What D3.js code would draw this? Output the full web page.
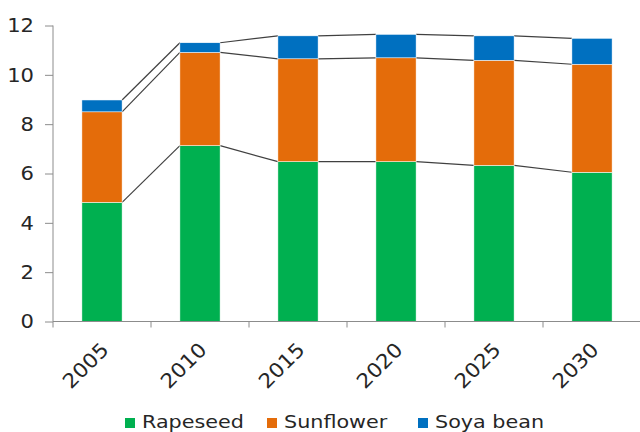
<!DOCTYPE html>
<html><head><meta charset="utf-8">
<script src="https://cdn.jsdelivr.net/npm/d3@7"></script>
<style>body{margin:0;background:#fff}svg{display:block}</style>
</head><body><svg id="c" width="640" height="432"></svg>
<script>
const years = ["2005","2010","2015","2020","2025","2030"];
const rapeseed = [4.83, 7.13, 6.48, 6.48, 6.33, 6.05];
const sunflower = [3.67, 3.78, 4.17, 4.21, 4.26, 4.38];
const soya = [0.48, 0.39, 0.93, 0.95, 0.99, 1.05];
const seriesNames = ["Rapeseed", "Sunflower", "Soya bean"];
const colors = ["#00B050", "#E46C0A", "#0070C0"];
const yTicks = [0, 2, 4, 6, 8, 10, 12];

const svg = d3.select("#c");
const font = "DejaVu Sans, Verdana, sans-serif";
const x = d3.scaleBand().domain(years).range([53, 641]).paddingInner(0.59).paddingOuter(0.295);
const y = d3.scaleLinear().domain([0, 12]).range([321.5, 25.5]);

const rows = years.map((yr, i) => ({year: yr, Rapeseed: rapeseed[i], Sunflower: sunflower[i], "Soya bean": soya[i]}));
const stacked = d3.stack().keys(seriesNames)(rows);

// connector lines
stacked.forEach(s => {
  for (let i = 0; i < s.length - 1; i++) {
    svg.append("line")
      .attr("x1", x(years[i]) + x.bandwidth()).attr("y1", y(s[i][1]))
      .attr("x2", x(years[i + 1])).attr("y2", y(s[i + 1][1]))
      .attr("stroke", "#404040").attr("stroke-width", 1.2);
  }
});

// bars
stacked.forEach((s, k) => {
  svg.append("g").selectAll("rect").data(s).join("rect")
    .attr("x", (d, i) => x(years[i]))
    .attr("y", d => y(d[1]))
    .attr("width", x.bandwidth())
    .attr("height", d => y(d[0]) - y(d[1]))
    .attr("fill", colors[k])
    .attr("stroke", "#fff").attr("stroke-width", 0.5);
});

// y axis
const ya = svg.append("g").attr("transform", "translate(53,0)")
  .call(d3.axisLeft(y).tickValues(yTicks).tickSize(8).tickPadding(11).tickFormat(d3.format("d")));
ya.select(".domain").attr("stroke", "#8c8c8c").attr("d", `M0,${y(12)}V${y(0)}`);
ya.selectAll(".tick line").attr("stroke", "#8c8c8c");
ya.selectAll(".tick text").each(function() {
  const t = d3.select(this);
  const xx = +t.attr("x");
  t.attr("x", null).attr("transform", `translate(${xx},0) scale(1.08,1)`);
});
ya.selectAll("text").attr("font-family", font).attr("font-size", 19.5).attr("fill", "#262626");

// x axis
const xa = svg.append("g").attr("transform", `translate(0,${y(0)})`);
xa.append("line").attr("x1", 53).attr("x2", 641).attr("stroke", "#8c8c8c");
const bounds = years.map(d => x(d) - x.step() * x.paddingInner() / 2);
bounds.push(641);
xa.selectAll(".tk").data(bounds).join("line")
  .attr("x1", d => d).attr("x2", d => d).attr("y1", 0).attr("y2", 6).attr("stroke", "#8c8c8c");
xa.selectAll("text").data(years).join("text")
  .attr("transform", d => `translate(${x(d) + x.bandwidth() / 2 + 3},${24.5}) rotate(-45) scale(1.08,1)`)
  .attr("text-anchor", "end").attr("dy", "0.35em")
  .attr("font-family", font).attr("font-size", 20).attr("fill", "#262626")
  .text(d => d);

// legend
const legX = [125, 267, 418];
const lg = svg.append("g");
seriesNames.forEach((n, i) => {
  lg.append("rect").attr("x", legX[i]).attr("y", 418).attr("width", 10).attr("height", 10).attr("fill", colors[i]);
  lg.append("text").attr("transform", `translate(${legX[i] + 17},428.3) scale(1.12,1)`)
    .attr("font-family", font).attr("font-size", 18.5)
    .attr("fill", "#262626").text(n);
});
</script></body></html>
